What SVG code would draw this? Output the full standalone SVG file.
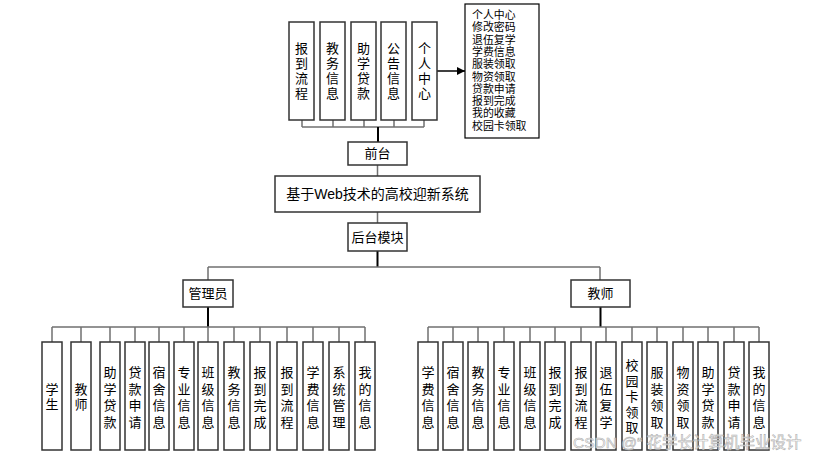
<svg xmlns="http://www.w3.org/2000/svg" width="815" height="457" viewBox="0 0 815 457">
<defs>
<style>
.box{fill:#fff;stroke:#333;stroke-width:1.5}
.t{font-family:"Liberation Sans","Noto Sans CJK SC",sans-serif;font-size:13px;fill:#000;text-anchor:middle;dominant-baseline:central}
.h{font-family:"Liberation Sans","Noto Sans CJK SC",sans-serif;font-size:13px;fill:#000;text-anchor:middle;dominant-baseline:central}
.l{font-family:"Liberation Sans","Noto Sans CJK SC",sans-serif;font-size:10.9px;fill:#000;dominant-baseline:central}
.c{fill:none;stroke:#707070;stroke-width:1.5}
.k{fill:none;stroke:#000;stroke-width:2}
</style>
<marker id="arr" viewBox="0 0 10 10" refX="10" refY="5" markerWidth="8" markerHeight="8" markerUnits="userSpaceOnUse" orient="auto"><path d="M0,0 L10,5 L0,10 z" fill="#000"/></marker>
</defs>
<rect width="815" height="457" fill="#fff"/>
<g id="connectors">
<path class="c" d="M302,120V127M333,120V127M364,120V127M394,120V127M424,120V127M302,127H424"/>
<path class="k" d="M378,127V142"/>
<path d="M437,71H465" stroke="#000" stroke-width="1.5" marker-end="url(#arr)"/>
<path class="c" d="M377.5,165V176M377.5,212V223"/>
<path class="k" d="M377.5,251V267"/>
<path class="c" d="M208,267H600M208,267V280M600,267V280"/>
<path class="k" d="M208,307V327"/>
<path class="c" d="M52,327H365M52,327V342M81,327V342M110,327V342M135,327V342M159,327V342M184,327V342M208,327V342M234,327V342M260,327V342M287,327V342M313,327V342M339,327V342M365,327V342"/>
<path class="k" d="M600.5,307V327"/>
<path class="c" d="M428,327H759M428,327V342M453,327V342M478,327V342M504,327V342M530,327V342M555,327V342M581,327V342M606,327V342M632,327V342M657,327V342M683,327V342M708,327V342M734,327V342M759,327V342"/>
</g>
<g id="n-bdlc"><rect class="box" x="289" y="22" width="25" height="98"/><text class="t"><tspan x="301.5" y="48">报</tspan><tspan x="301.5" y="63">到</tspan><tspan x="301.5" y="78">流</tspan><tspan x="301.5" y="93">程</tspan></text></g>
<g id="n-jwxx"><rect class="box" x="320" y="22" width="25" height="98"/><text class="t"><tspan x="332.5" y="48">教</tspan><tspan x="332.5" y="63">务</tspan><tspan x="332.5" y="78">信</tspan><tspan x="332.5" y="93">息</tspan></text></g>
<g id="n-zxdk"><rect class="box" x="351" y="22" width="25" height="98"/><text class="t"><tspan x="363.5" y="48">助</tspan><tspan x="363.5" y="63">学</tspan><tspan x="363.5" y="78">贷</tspan><tspan x="363.5" y="93">款</tspan></text></g>
<g id="n-ggxx"><rect class="box" x="381" y="22" width="25" height="98"/><text class="t"><tspan x="393.5" y="48">公</tspan><tspan x="393.5" y="63">告</tspan><tspan x="393.5" y="78">信</tspan><tspan x="393.5" y="93">息</tspan></text></g>
<g id="n-grzx"><rect class="box" x="412" y="22" width="25" height="98"/><text class="t"><tspan x="424.5" y="48">个</tspan><tspan x="424.5" y="63">人</tspan><tspan x="424.5" y="78">中</tspan><tspan x="424.5" y="93">心</tspan></text></g>
<g id="n-list"><rect x="465" y="4" width="74" height="134" fill="#fff" stroke="#000" stroke-width="1.2"/>
<text class="l"><tspan x="472" y="15">个人中心</tspan><tspan x="472" y="27.3">修改密码</tspan><tspan x="472" y="39.6">退伍复学</tspan><tspan x="472" y="51.9">学费信息</tspan><tspan x="472" y="64.2">服装领取</tspan><tspan x="472" y="76.5">物资领取</tspan><tspan x="472" y="88.8">贷款申请</tspan><tspan x="472" y="101.1">报到完成</tspan><tspan x="472" y="113.4">我的收藏</tspan><tspan x="472" y="125.7">校园卡领取</tspan></text></g>
<g id="n-qt"><rect class="box" x="348" y="142" width="59" height="23"/><text class="h" x="377.5" y="153.5">前台</text></g>
<g id="n-main"><rect class="box" x="275" y="176" width="205" height="36"/><text class="h" x="377.5" y="194" style="font-size:14px">基于Web技术的高校迎新系统</text></g>
<g id="n-ht"><rect class="box" x="348" y="223" width="59" height="28"/><text class="h" x="377.5" y="237">后台模块</text></g>
<g id="n-gly"><rect class="box" x="183" y="280" width="50" height="27"/><text class="h" x="208" y="293.5">管理员</text></g>
<g id="n-js"><rect class="box" x="571" y="280" width="59" height="27"/><text class="h" x="600.5" y="293.5">教师</text></g>
<g id="a1"><rect class="box" x="42" y="342" width="20" height="108"/><text class="t"><tspan x="52" y="388.5">学</tspan><tspan x="52" y="403.5">生</tspan></text></g>
<g id="a2"><rect class="box" x="71" y="342" width="20" height="108"/><text class="t"><tspan x="81" y="388.5">教</tspan><tspan x="81" y="403.5">师</tspan></text></g>
<g id="a3"><rect class="box" x="100" y="342" width="20" height="108"/><text class="t"><tspan x="110" y="372">助</tspan><tspan x="110" y="388.5">学</tspan><tspan x="110" y="405">贷</tspan><tspan x="110" y="421.5">款</tspan></text></g>
<g id="a4"><rect class="box" x="125" y="342" width="20" height="108"/><text class="t"><tspan x="135" y="372">贷</tspan><tspan x="135" y="388.5">款</tspan><tspan x="135" y="405">申</tspan><tspan x="135" y="421.5">请</tspan></text></g>
<g id="a5"><rect class="box" x="149" y="342" width="20" height="108"/><text class="t"><tspan x="159" y="372">宿</tspan><tspan x="159" y="388.5">舍</tspan><tspan x="159" y="405">信</tspan><tspan x="159" y="421.5">息</tspan></text></g>
<g id="a6"><rect class="box" x="174" y="342" width="20" height="108"/><text class="t"><tspan x="184" y="372">专</tspan><tspan x="184" y="388.5">业</tspan><tspan x="184" y="405">信</tspan><tspan x="184" y="421.5">息</tspan></text></g>
<g id="a7"><rect class="box" x="198" y="342" width="20" height="108"/><text class="t"><tspan x="208" y="372">班</tspan><tspan x="208" y="388.5">级</tspan><tspan x="208" y="405">信</tspan><tspan x="208" y="421.5">息</tspan></text></g>
<g id="a8"><rect class="box" x="224" y="342" width="20" height="108"/><text class="t"><tspan x="234" y="372">教</tspan><tspan x="234" y="388.5">务</tspan><tspan x="234" y="405">信</tspan><tspan x="234" y="421.5">息</tspan></text></g>
<g id="a9"><rect class="box" x="250" y="342" width="20" height="108"/><text class="t"><tspan x="260" y="372">报</tspan><tspan x="260" y="388.5">到</tspan><tspan x="260" y="405">完</tspan><tspan x="260" y="421.5">成</tspan></text></g>
<g id="a10"><rect class="box" x="277" y="342" width="20" height="108"/><text class="t"><tspan x="287" y="372">报</tspan><tspan x="287" y="388.5">到</tspan><tspan x="287" y="405">流</tspan><tspan x="287" y="421.5">程</tspan></text></g>
<g id="a11"><rect class="box" x="303" y="342" width="20" height="108"/><text class="t"><tspan x="313" y="372">学</tspan><tspan x="313" y="388.5">费</tspan><tspan x="313" y="405">信</tspan><tspan x="313" y="421.5">息</tspan></text></g>
<g id="a12"><rect class="box" x="329" y="342" width="20" height="108"/><text class="t"><tspan x="339" y="372">系</tspan><tspan x="339" y="388.5">统</tspan><tspan x="339" y="405">管</tspan><tspan x="339" y="421.5">理</tspan></text></g>
<g id="a13"><rect class="box" x="355" y="342" width="20" height="108"/><text class="t"><tspan x="365" y="372">我</tspan><tspan x="365" y="388.5">的</tspan><tspan x="365" y="405">信</tspan><tspan x="365" y="421.5">息</tspan></text></g>
<g id="b1"><rect class="box" x="418" y="342" width="20" height="108"/><text class="t"><tspan x="428" y="372">学</tspan><tspan x="428" y="388.5">费</tspan><tspan x="428" y="405">信</tspan><tspan x="428" y="421.5">息</tspan></text></g>
<g id="b2"><rect class="box" x="443" y="342" width="20" height="108"/><text class="t"><tspan x="453" y="372">宿</tspan><tspan x="453" y="388.5">舍</tspan><tspan x="453" y="405">信</tspan><tspan x="453" y="421.5">息</tspan></text></g>
<g id="b3"><rect class="box" x="468" y="342" width="20" height="108"/><text class="t"><tspan x="478" y="372">教</tspan><tspan x="478" y="388.5">务</tspan><tspan x="478" y="405">信</tspan><tspan x="478" y="421.5">息</tspan></text></g>
<g id="b4"><rect class="box" x="494" y="342" width="20" height="108"/><text class="t"><tspan x="504" y="372">专</tspan><tspan x="504" y="388.5">业</tspan><tspan x="504" y="405">信</tspan><tspan x="504" y="421.5">息</tspan></text></g>
<g id="b5"><rect class="box" x="520" y="342" width="20" height="108"/><text class="t"><tspan x="530" y="372">班</tspan><tspan x="530" y="388.5">级</tspan><tspan x="530" y="405">信</tspan><tspan x="530" y="421.5">息</tspan></text></g>
<g id="b6"><rect class="box" x="545" y="342" width="20" height="108"/><text class="t"><tspan x="555" y="372">报</tspan><tspan x="555" y="388.5">到</tspan><tspan x="555" y="405">完</tspan><tspan x="555" y="421.5">成</tspan></text></g>
<g id="b7"><rect class="box" x="571" y="342" width="20" height="108"/><text class="t"><tspan x="581" y="372">报</tspan><tspan x="581" y="388.5">到</tspan><tspan x="581" y="405">流</tspan><tspan x="581" y="421.5">程</tspan></text></g>
<g id="b8"><rect class="box" x="596" y="342" width="20" height="108"/><text class="t"><tspan x="606" y="372">退</tspan><tspan x="606" y="388.5">伍</tspan><tspan x="606" y="405">复</tspan><tspan x="606" y="421.5">学</tspan></text></g>
<g id="b9"><rect class="box" x="622" y="342" width="20" height="108"/><text class="t"><tspan x="632" y="365">校</tspan><tspan x="632" y="380.5">园</tspan><tspan x="632" y="396">卡</tspan><tspan x="632" y="411.5">领</tspan><tspan x="632" y="427">取</tspan></text></g>
<g id="b10"><rect class="box" x="647" y="342" width="20" height="108"/><text class="t"><tspan x="657" y="372">服</tspan><tspan x="657" y="388.5">装</tspan><tspan x="657" y="405">领</tspan><tspan x="657" y="421.5">取</tspan></text></g>
<g id="b11"><rect class="box" x="673" y="342" width="20" height="108"/><text class="t"><tspan x="683" y="372">物</tspan><tspan x="683" y="388.5">资</tspan><tspan x="683" y="405">领</tspan><tspan x="683" y="421.5">取</tspan></text></g>
<g id="b12"><rect class="box" x="698" y="342" width="20" height="108"/><text class="t"><tspan x="708" y="372">助</tspan><tspan x="708" y="388.5">学</tspan><tspan x="708" y="405">贷</tspan><tspan x="708" y="421.5">款</tspan></text></g>
<g id="b13"><rect class="box" x="724" y="342" width="20" height="108"/><text class="t"><tspan x="734" y="372">贷</tspan><tspan x="734" y="388.5">款</tspan><tspan x="734" y="405">申</tspan><tspan x="734" y="421.5">请</tspan></text></g>
<g id="b14"><rect class="box" x="749" y="342" width="20" height="108"/><text class="t"><tspan x="759" y="372">我</tspan><tspan x="759" y="388.5">的</tspan><tspan x="759" y="405">信</tspan><tspan x="759" y="421.5">息</tspan></text></g>
<text x="573" y="442" font-family="'Liberation Sans','Noto Sans CJK SC',sans-serif" font-size="15.5" fill="#ffffff" fill-opacity="0.7" stroke="#b0b0b0" stroke-width="0.6" dominant-baseline="central">CSDN @“ 花学长计算机毕业设计</text>
</svg>
